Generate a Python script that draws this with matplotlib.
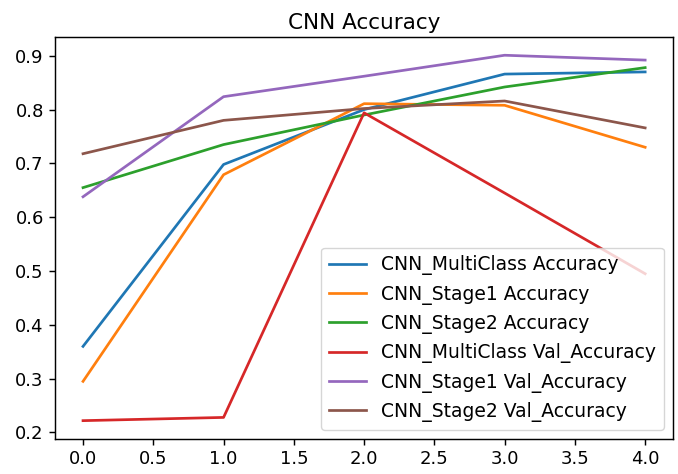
import matplotlib
matplotlib.use('Agg')
from matplotlib import pyplot as plt

# epochs
epochs = [0, 1, 2, 3, 4]

# training accuracy
multi_acc = [0.360, 0.698, 0.800, 0.866, 0.870]
stage1_acc = [0.295, 0.679, 0.811, 0.808, 0.730]
stage2_acc = [0.655, 0.735, 0.790, 0.842, 0.878]

# validation accuracy
multi_val = [0.222, 0.228, 0.794, 0.645, 0.495]
stage1_val = [0.638, 0.824, 0.862, 0.901, 0.892]
stage2_val = [0.718, 0.780, 0.802, 0.816, 0.766]

labels = ['CNN_MultiClass Accuracy', 'CNN_Stage1 Accuracy', 'CNN_Stage2 Accuracy',
          'CNN_MultiClass Val_Accuracy', 'CNN_Stage1 Val_Accuracy', 'CNN_Stage2 Val_Accuracy']

# imagen original parece escalada ~1.3x sobre el estilo por defecto
plt.rcParams['font.size'] = 13
plt.rcParams['axes.titlesize'] = 15.5
plt.rcParams['axes.linewidth'] = 1.04
plt.rcParams['xtick.major.size'] = 4.5
plt.rcParams['ytick.major.size'] = 4.5
plt.rcParams['xtick.major.width'] = 1.04
plt.rcParams['ytick.major.width'] = 1.04

fig = plt.figure(figsize=(6.78, 4.74), dpi=100)
ax = fig.add_axes([0.081, 0.074, 0.912, 0.848])

for serie, lab in zip([multi_acc, stage1_acc, stage2_acc, multi_val, stage1_val, stage2_val], labels):
    ax.plot(epochs, serie, label=lab, linewidth=1.95)

ax.set_title('CNN Accuracy')
ax.legend(loc='lower right', fontsize=13.5)
fig.savefig('out.png')
